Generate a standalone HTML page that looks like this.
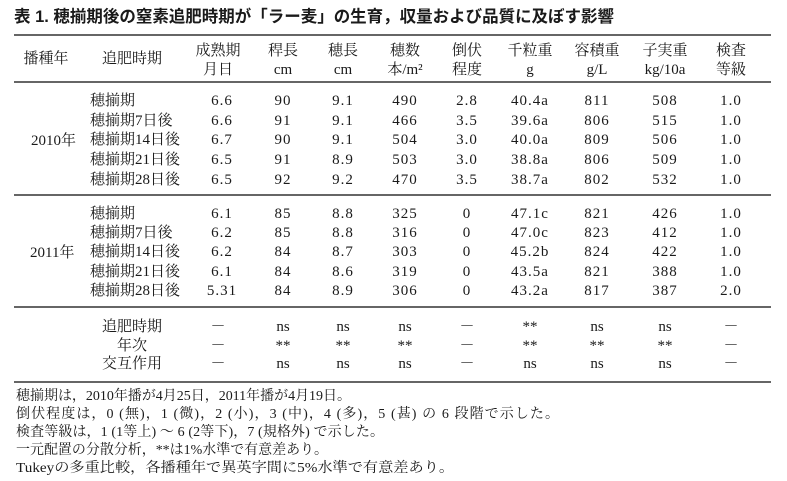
<!DOCTYPE html>
<html><head><meta charset="utf-8"><style>
body{margin:0;background:#fff;}
svg text{font-family:"Liberation Serif","Noto Serif CJK JP",serif;font-size:15px;fill:#1a1a1a;}
.g{font-family:"Liberation Sans","Noto Sans CJK JP",sans-serif;}
</style></head><body>
<svg width="787" height="476" xmlns="http://www.w3.org/2000/svg">
<text x="14" y="22" class="g" style="font-size:16.5px;font-weight:bold" textLength="600" lengthAdjust="spacingAndGlyphs">表 1.  穂揃期後の窒素追肥時期が「ラー麦」の生育，収量および品質に及ぼす影響</text>
<g stroke="#333" stroke-width="1.5">
<line x1="14" y1="35" x2="771" y2="35"/>
<line x1="14" y1="82" x2="771" y2="82"/>
<line x1="14" y1="195" x2="771" y2="195"/>
<line x1="14" y1="307" x2="771" y2="307"/>
<line x1="14" y1="382" x2="771" y2="382"/>
</g>
<g text-anchor="middle">
<text x="46" y="63">播種年</text><text x="132" y="63">追肥時期</text>
<text x="218" y="55">成熟期</text><text x="218" y="74">月日</text>
<text x="283" y="55">稈長</text><text x="283" y="74">cm</text>
<text x="343" y="55">穂長</text><text x="343" y="74">cm</text>
<text x="405" y="55">穂数</text><text x="405" y="74">本/m²</text>
<text x="467" y="55">倒伏</text><text x="467" y="74">程度</text>
<text x="530" y="55">千粒重</text><text x="530" y="74">g</text>
<text x="597" y="55">容積重</text><text x="597" y="74">g/L</text>
<text x="665" y="55">子実重</text><text x="665" y="74">kg/10a</text>
<text x="731" y="55">検査</text><text x="731" y="74">等級</text>
</g>
<text x="31" y="145">2010年</text>
<text x="30" y="257">2011年</text>
<g>
<text x="90" y="105">穂揃期</text><text x="90" y="125">穂揃期7日後</text><text x="90" y="144">穂揃期14日後</text><text x="90" y="164">穂揃期21日後</text><text x="90" y="184">穂揃期28日後</text>
<text x="90" y="218">穂揃期</text><text x="90" y="237">穂揃期7日後</text><text x="90" y="256">穂揃期14日後</text><text x="90" y="276">穂揃期21日後</text><text x="90" y="295">穂揃期28日後</text>
</g>
<g text-anchor="middle" style="letter-spacing:1px">
<g transform="translate(0,105)"><text x="222">6.6</text><text x="283">90</text><text x="343">9.1</text><text x="405">490</text><text x="467">2.8</text><text x="530">40.4a</text><text x="597">811</text><text x="665">508</text><text x="731">1.0</text></g>
<g transform="translate(0,125)"><text x="222">6.6</text><text x="283">91</text><text x="343">9.1</text><text x="405">466</text><text x="467">3.5</text><text x="530">39.6a</text><text x="597">806</text><text x="665">515</text><text x="731">1.0</text></g>
<g transform="translate(0,144)"><text x="222">6.7</text><text x="283">90</text><text x="343">9.1</text><text x="405">504</text><text x="467">3.0</text><text x="530">40.0a</text><text x="597">809</text><text x="665">506</text><text x="731">1.0</text></g>
<g transform="translate(0,164)"><text x="222">6.5</text><text x="283">91</text><text x="343">8.9</text><text x="405">503</text><text x="467">3.0</text><text x="530">38.8a</text><text x="597">806</text><text x="665">509</text><text x="731">1.0</text></g>
<g transform="translate(0,184)"><text x="222">6.5</text><text x="283">92</text><text x="343">9.2</text><text x="405">470</text><text x="467">3.5</text><text x="530">38.7a</text><text x="597">802</text><text x="665">532</text><text x="731">1.0</text></g>
<g transform="translate(0,218)"><text x="222">6.1</text><text x="283">85</text><text x="343">8.8</text><text x="405">325</text><text x="467">0</text><text x="530">47.1c</text><text x="597">821</text><text x="665">426</text><text x="731">1.0</text></g>
<g transform="translate(0,237)"><text x="222">6.2</text><text x="283">85</text><text x="343">8.8</text><text x="405">316</text><text x="467">0</text><text x="530">47.0c</text><text x="597">823</text><text x="665">412</text><text x="731">1.0</text></g>
<g transform="translate(0,256)"><text x="222">6.2</text><text x="283">84</text><text x="343">8.7</text><text x="405">303</text><text x="467">0</text><text x="530">45.2b</text><text x="597">824</text><text x="665">422</text><text x="731">1.0</text></g>
<g transform="translate(0,276)"><text x="222">6.1</text><text x="283">84</text><text x="343">8.6</text><text x="405">319</text><text x="467">0</text><text x="530">43.5a</text><text x="597">821</text><text x="665">388</text><text x="731">1.0</text></g>
<g transform="translate(0,295)"><text x="222">5.31</text><text x="283">84</text><text x="343">8.9</text><text x="405">306</text><text x="467">0</text><text x="530">43.2a</text><text x="597">817</text><text x="665">387</text><text x="731">2.0</text></g>
</g>
<g text-anchor="middle">
<g transform="translate(0,331)"><text x="132">追肥時期</text><text x="218">－</text><text x="283">ns</text><text x="343">ns</text><text x="405">ns</text><text x="467">－</text><text x="530">**</text><text x="597">ns</text><text x="665">ns</text><text x="731">－</text></g>
<g transform="translate(0,350)"><text x="132">年次</text><text x="218">－</text><text x="283">**</text><text x="343">**</text><text x="405">**</text><text x="467">－</text><text x="530">**</text><text x="597">**</text><text x="665">**</text><text x="731">－</text></g>
<g transform="translate(0,368)"><text x="132">交互作用</text><text x="218">－</text><text x="283">ns</text><text x="343">ns</text><text x="405">ns</text><text x="467">－</text><text x="530">ns</text><text x="597">ns</text><text x="665">ns</text><text x="731">－</text></g>
</g>
<g>
<text x="16" y="400" style="font-size:14px" textLength="335" lengthAdjust="spacingAndGlyphs">穂揃期は，2010年播が4月25日，2011年播が4月19日。</text>
<text x="16" y="418" style="font-size:14px" textLength="543" lengthAdjust="spacing">倒伏程度は，0 (無)，1 (微)，2 (小)，3 (中)，4 (多)，5 (甚) の 6 段階で示した。</text>
<text x="16" y="436" style="font-size:14px" textLength="368" lengthAdjust="spacing">検査等級は，1 (1等上) ～ 6 (2等下)，7 (規格外) で示した。</text>
<text x="16" y="454" style="font-size:14px" textLength="312" lengthAdjust="spacingAndGlyphs">一元配置の分散分析，**は1%水準で有意差あり。</text>
<text x="16" y="472" style="font-size:14px" textLength="438" lengthAdjust="spacingAndGlyphs">Tukeyの多重比較，各播種年で異英字間に5%水準で有意差あり。</text>
</g>
</svg>
</body></html>
